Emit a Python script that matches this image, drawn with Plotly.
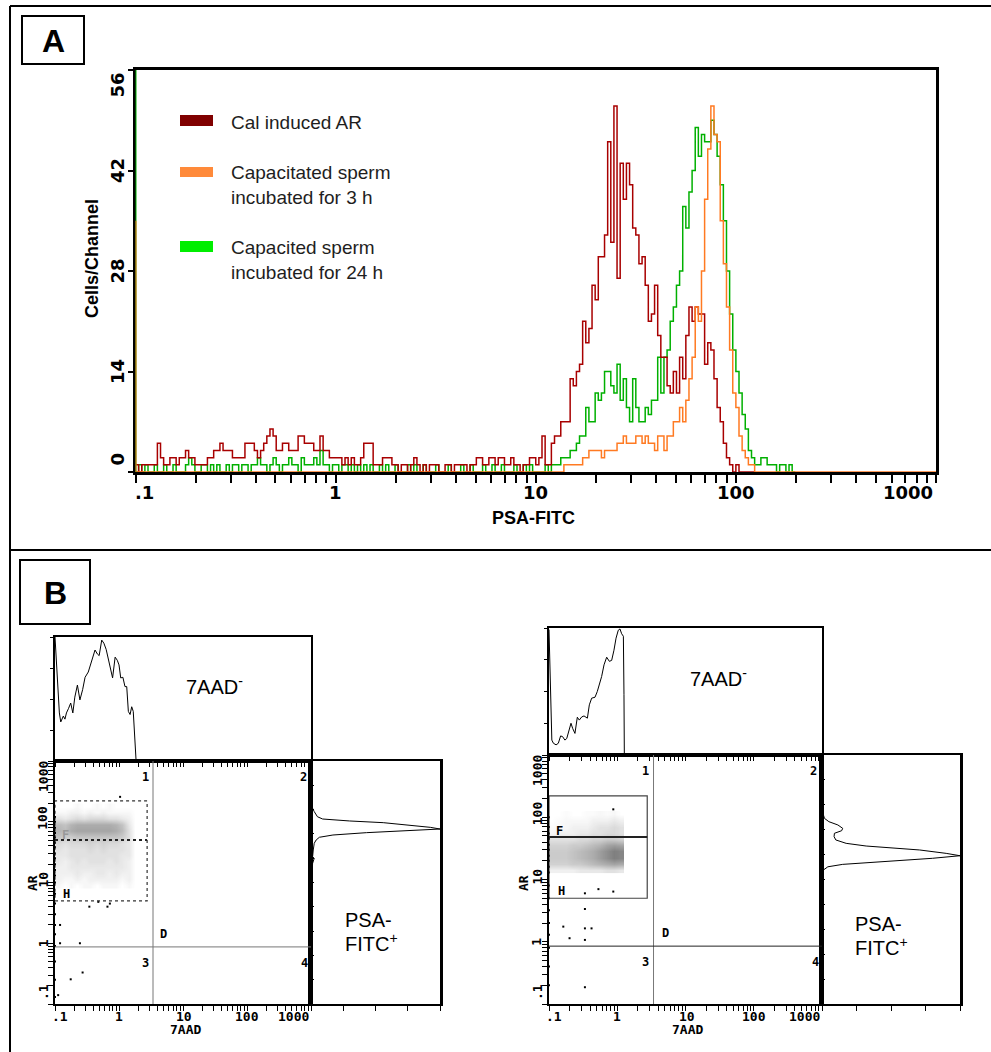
import numpy as np
import plotly.graph_objects as go

W, H = 991, 1052

# ---------------- Panel A: PSA-FITC histograms (256 log channels, 0.1 - 1000) ----------------
CH_PER_DECADE = 64

cal_induced_ar = [
    1, 0, 1, 1, 1, 1, 1, 4,  2, 1, 1, 2, 2, 1, 2, 2,  3, 2, 2, 1, 1, 1, 1, 2,  2, 3, 3, 4, 3, 3, 3, 2,
    2, 2, 2, 4, 4, 4, 3, 2,  3, 4, 5, 6, 5, 3, 3, 4,  4, 3, 3, 3, 5, 5, 4, 4,  4, 3, 3, 5, 3, 3, 2, 2,
    2, 2, 1, 2, 1, 2, 1, 1,  2, 4, 4, 4, 1, 1, 1, 2,  2, 2, 1, 1, 0, 1, 1, 0,  1, 2, 1, 0, 1, 0, 1, 1,
    1, 0, 0, 1, 1, 0, 1, 1,  1, 1, 0, 1, 1, 2, 2, 1,  1, 2, 2, 1, 2, 2, 1, 1,  2, 1, 1, 0, 1, 1, 2, 2,
    1, 2, 5, 1, 1, 4, 5, 5, 7, 7,
    7, 13, 12, 14, 15, 21, 18, 20, 26, 24,
    30, 30, 33, 46, 32, 51, 27, 43, 38, 43,
    40, 34, 33, 29, 30, 26, 21, 22, 26, 19,
    16, 16, 12, 11, 14, 11, 16, 13, 19, 23,
    21, 23, 22, 22, 15, 18, 17, 13, 9, 7,
    4, 2, 1, 0, 1, 0, 0, 0, 0, 0,
]

capacitated_24h = [
    0, 1, 0, 1, 0, 0, 1, 0,  0, 1, 0, 0, 1, 0, 0, 0,  1, 2, 1, 0, 0, 1, 1, 0,  1, 0, 1, 0, 0, 1, 0, 1,
    1, 0, 1, 1, 0, 1, 1, 2,  1, 1, 0, 1, 2, 1, 0, 1,  1, 2, 1, 1, 0, 2, 1, 1,  1, 2, 1, 3, 1, 1, 0, 1,
    1, 0, 1, 1, 0, 1, 0, 1,  0, 1, 0, 1, 0, 0, 1, 0,  1, 0, 0, 1, 0, 0, 0, 1,  0, 1, 0, 0, 1, 0, 0, 0,
    1, 0, 0, 0, 1, 0, 0, 0,  1, 0, 0, 1, 0, 0, 0, 1,  0, 0, 1, 0, 0, 1, 0, 0,  0, 1, 0, 0, 1, 0, 1, 0,
    0, 0, 0, 1, 0, 1, 1, 1, 2, 2,
    2, 3, 3, 4, 5, 5, 9, 7, 7, 11,
    10, 11, 14, 14, 12, 11, 15, 10, 13, 9,
    7, 13, 9, 7, 7, 9, 8, 10, 10, 16,
    11, 16, 17, 21, 23, 26, 28, 37, 34, 39,
    42, 48, 44, 47, 46, 46, 49, 47, 44, 40,
    35, 28, 22, 17, 14, 11, 8, 6, 3, 2,
    1, 1, 2, 2, 1, 1, 1, 0, 1, 1,
    0, 1, 0,
]

capacitated_3h = [0] * 136 + [
    0, 1, 1, 1, 1, 1, 1, 2, 2, 3,
    3, 3, 3, 2, 3, 3, 3, 3, 4, 4,
    5, 4, 4, 4, 5, 5, 4, 5, 4, 4,
    3, 5, 5, 3, 5, 5, 7, 7, 9, 7,
    10, 13, 16, 23, 21, 28, 38, 45, 51, 47,
    46, 35, 29, 23, 17, 11, 9, 5, 3, 2,
    1, 1,
] + [0] * 58

# events piled up in the lowest channel (off scale at 0.1)
capacitated_3h_offscale = 35
capacitated_24h_offscale = 60

a_xticks_decades = [".1", "1", "10", "100", "1000"]
a_yticks = [0, 14, 28, 42, 56]

legend_labels = ["Cal induced AR",
                 "Capacitated sperm<br>incubated for 3 h",
                 "Capacited sperm<br>incubated for 24 h"]

# ---------------- Panel B: 7AAD / AR dot plots ----------------
# 7AAD single-parameter histograms (above each dot plot)
aad_left_7aad = [0.100, 0.109, 0.117, 0.123, 0.135, 0.143, 0.151, 0.163, 0.176, 0.19,
                 0.204, 0.224, 0.245, 0.27, 0.295, 0.331, 0.372, 0.422, 0.46, 0.49,
                 0.537, 0.58, 0.63, 0.68, 0.75, 0.794, 0.87, 0.94, 1.0, 1.064,
                 1.15, 1.24, 1.32, 1.40, 1.49, 1.58, 1.67, 1.71, 1.78, 1.85]
aad_left_counts = [40, 28, 15.5, 12.6, 14.5, 13.5, 15.5, 17, 18.7, 15.5,
                   20.6, 24.5, 19.7, 23, 27, 28.7, 32, 35.8, 34.5, 34,
                   39, 38, 36, 33, 30, 26.8, 33.5, 32.5, 31, 26.8,
                   27, 24, 24, 16, 15, 17.5, 16, 11, 5, 0]

aad_right_7aad = [0.1, 0.106, 0.11, 0.116, 0.127, 0.137, 0.148, 0.158, 0.171, 0.182,
                  0.196, 0.21, 0.222, 0.24, 0.26, 0.278, 0.302, 0.326, 0.365, 0.39,
                  0.422, 0.472, 0.51, 0.546, 0.59, 0.64, 0.70, 0.766, 0.828, 0.895,
                  0.96, 1.035, 1.096, 1.16, 1.23, 1.255, 1.27]
aad_right_counts = [39.5, 21.6, 4.7, 3.7, 3.2, 3.7, 6.0, 5.8, 4.7, 5.2,
                    7.9, 10, 8.4, 6.8, 11.9, 11, 12, 12.3, 11.6, 15.8,
                    17.9, 18.2, 20, 22, 24.7, 28.4, 30.8, 29.5, 29.8, 33,
                    36.8, 39.3, 39.7, 38.2, 37.4, 19, 0]

# PSA-FITC (AR) histograms (right of each dot plot)
ar_left_ar = [177, 166, 147, 121, 111, 107, 103, 96.6, 88.3, 80.9, 75.9, 71.3,
              66.1, 60.5, 55.5, 50.1, 44.2, 34.3, 26.6, 25, 20.7, 14.2, 9.1]
ar_left_counts = [0, 0.5, 1, 2, 3.6, 6.8, 12, 22.4, 30.7, 37, 40, 27.6,
                  17.2, 6.8, 2.6, 1.6, 1, 0.7, 0.5, 1, 0.5, 0.3, 0]
ar_right_ar = [130.6, 118.3, 96.2, 84.9, 75.2, 66.4, 60.8, 55.2, 48.8, 43.2, 38.1, 34.5,
               32.4, 29.8, 26.3, 24.1, 21.9, 20.0, 18.6, 17.5, 16.0, 14.2, 12.6]
ar_right_counts = [0, 0.2, 0.7, 2, 4.6, 6, 5.7, 3.6, 3.5, 4, 7, 12.8,
                   20.6, 28.3, 36, 40, 32, 22.5, 12.8, 6, 1.7, 0.4, 0]

# dot-plot event density (relative), 0.1-decade bins
dens_left_7aad = [0.112, 0.141, 0.178, 0.224, 0.282, 0.355, 0.447, 0.562, 0.708, 0.891, 1.122, 1.413, 1.778]
dens_left_ar = [8.9, 11.2, 14.1, 17.8, 22.4, 28.2, 35.5, 44.7, 56.2, 70.8, 89.1, 112, 141, 178]
dens_left = [
    [0.05, 0, 0.05, 0, 0.05, 0.05, 0, 0.05, 0.05, 0.05, 0, 0.05, 0],
    [0.1, 0.05, 0.05, 0.1, 0.05, 0.1, 0.1, 0.1, 0.1, 0.1, 0.05, 0.1, 0],
    [0.1, 0.1, 0.1, 0.15, 0.1, 0.1, 0.15, 0.15, 0.1, 0.15, 0.1, 0.1, 0],
    [0.1, 0.1, 0.15, 0.15, 0.15, 0.15, 0.15, 0.15, 0.15, 0.15, 0.15, 0.1, 0],
    [0.15, 0.1, 0.15, 0.2, 0.15, 0.2, 0.2, 0.2, 0.15, 0.2, 0.15, 0.1, 0],
    [0.15, 0.15, 0.2, 0.2, 0.2, 0.2, 0.2, 0.2, 0.2, 0.2, 0.15, 0.15, 0],
    [0.2, 0.15, 0.2, 0.2, 0.2, 0.25, 0.2, 0.25, 0.2, 0.2, 0.2, 0.15, 0],
    [0.25, 0.2, 0.25, 0.25, 0.25, 0.3, 0.25, 0.3, 0.25, 0.25, 0.2, 0.15, 0],
    [0.4, 0.35, 0.35, 0.4, 0.4, 0.4, 0.4, 0.4, 0.4, 0.4, 0.35, 0.2, 0],
    [0.5, 0.45, 0.55, 0.6, 0.6, 0.6, 0.6, 0.6, 0.6, 0.55, 0.45, 0.2, 0],
    [0.45, 0.4, 0.5, 0.55, 0.55, 0.55, 0.55, 0.55, 0.55, 0.5, 0.4, 0.15, 0],
    [0.2, 0.15, 0.2, 0.25, 0.2, 0.25, 0.25, 0.25, 0.2, 0.2, 0.15, 0.1, 0],
    [0.05, 0.05, 0.1, 0.1, 0.05, 0.1, 0.05, 0.1, 0.05, 0.05, 0.05, 0.05, 0],
    [0, 0, 0, 0.05, 0, 0, 0.05, 0, 0.05, 0, 0, 0, 0],
]
dens_right_7aad = [0.112, 0.141, 0.178, 0.224, 0.282, 0.355, 0.447, 0.562, 0.708, 0.891, 1.122]
dens_right_ar = [14.1, 17.8, 22.4, 28.2, 35.5, 44.7, 56.2, 70.8, 89.1, 112]
dens_right = [
    [0.1, 0.1, 0.1, 0.1, 0.15, 0.15, 0.15, 0.15, 0.2, 0.2, 0.15],
    [0.3, 0.3, 0.3, 0.35, 0.35, 0.4, 0.45, 0.5, 0.55, 0.6, 0.55],
    [0.35, 0.35, 0.35, 0.4, 0.45, 0.5, 0.55, 0.65, 0.75, 0.85, 0.8],
    [0.35, 0.35, 0.35, 0.4, 0.45, 0.5, 0.55, 0.65, 0.75, 0.85, 0.8],
    [0.3, 0.3, 0.3, 0.35, 0.35, 0.4, 0.45, 0.5, 0.6, 0.65, 0.6],
    [0.2, 0.2, 0.2, 0.2, 0.25, 0.25, 0.3, 0.3, 0.35, 0.35, 0.3],
    [0.05, 0.1, 0.1, 0.1, 0.15, 0.15, 0.2, 0.2, 0.25, 0.25, 0.2],
    [0.03, 0.05, 0.05, 0.1, 0.1, 0.1, 0.15, 0.2, 0.2, 0.25, 0.2],
    [0, 0.03, 0.05, 0.05, 0.05, 0.05, 0.1, 0.1, 0.1, 0.15, 0.1],
    [0, 0, 0.03, 0, 0, 0.03, 0.03, 0.05, 0.03, 0.05, 0],
]

# isolated events outside the dense cloud
dots_left_7aad = [0.344, 0.475, 0.66, 0.72, 0.12, 0.245, 0.12, 0.27, 0.176, 0.112, 1.04,
                  0.1, 0.1, 0.1, 0.1, 0.1, 0.1, 0.1, 0.1, 0.1, 0.1, 0.1, 0.1, 0.1, 0.1, 0.1, 0.1,
                  0.1, 0.1, 0.1, 0.1, 0.1, 0.1]
dots_left_ar = [4.0, 4.8, 4.0, 4.5, 2.0, 1.0, 1.0, 0.33, 0.255, 0.14, 257,
                120, 80, 55, 38, 25, 16, 10, 6.5, 4.5, 3.0, 2.0, 1.4, 0.9, 0.5, 0.25, 0.13,
                100, 65, 45, 30, 20, 13]
dots_right_7aad = [0.336, 0.336, 0.42, 0.162, 0.2, 0.336, 0.336, 0.336, 0.53, 0.875, 0.875,
                   0.1, 0.1, 0.1, 0.1, 0.1, 0.1, 0.1, 0.1, 0.1, 0.1, 0.1, 0.1, 0.1, 0.1,
                   0.1, 0.1, 0.1, 0.1]
dots_right_ar = [3.36, 1.64, 1.64, 1.75, 1.14, 1.07, 0.186, 6.0, 7.0, 6.4, 134,
                 100, 70, 45, 30, 20, 13, 8, 5, 3.2, 2.0, 1.3, 0.8, 0.4, 0.2,
                 55, 36, 24, 16]

# gates and quadrant markers (7AAD, AR units)
gate_7aad = (0.1, 2.75)
gate_ar = (5.0, 220.0)
gate_split_left, gate_split_right = 50.0, 48.0
quad_7aad = 3.4
quad_ar_left, quad_ar_right = 0.87, 0.85
b_decade_labels = [".1", "1", "10", "100", "1000"]

# ---------------- colours / fonts ----------------
RED, ORANGE, GREEN = "#a80000", "#ff7a22", "#00b000"
RED_KEY, ORANGE_KEY, GREEN_KEY = "#800000", "#ff8a3a", "#00ee00"
MONO = "DejaVu Sans Mono"
TICKS_A = "DejaVu Sans"
SANS = "Liberation Sans, Arial"


def pxx(x):
    return x / W


def pxy(y):
    return 1 - y / H


fig = go.Figure()

# ---- Panel A traces ----
def step_trace(counts, color, name):
    n = len(counts)
    edges = 10.0 ** (-1 + np.arange(n + 1) / CH_PER_DECADE)
    return go.Scatter(x=edges, y=list(counts) + [counts[-1]], mode="lines",
                      line=dict(color=color, width=1.5, shape="hv"),
                      name=name, showlegend=False, xaxis="x", yaxis="y",
                      hoverinfo="skip")


fig.add_trace(step_trace(capacitated_24h, GREEN, "24 h"))
fig.add_trace(step_trace(cal_induced_ar, RED, "Cal"))
fig.add_trace(step_trace(capacitated_3h, ORANGE, "3 h"))
fig.add_trace(go.Scatter(x=[0.1, 0.1], y=[0, capacitated_24h_offscale], mode="lines",
                         line=dict(color=GREEN, width=2), xaxis="x", yaxis="y",
                         showlegend=False, hoverinfo="skip"))
fig.add_trace(go.Scatter(x=[0.1, 0.1], y=[0, capacitated_3h_offscale], mode="lines",
                         line=dict(color=ORANGE, width=2), xaxis="x", yaxis="y",
                         showlegend=False, hoverinfo="skip"))

# ---- Panel B traces ----
dens_scale = [[0, "rgba(40,40,40,0)"], [1, "rgba(40,40,40,0.7)"]]


def add_block(ix, aad_x, aad_c, ar_y, ar_c, dx, dy, dz, dots_x, dots_y):
    xa, ya = f"x{ix}", f"y{ix}"
    xs, ys = f"x{ix + 1}", f"y{ix + 1}"
    xr, yr = f"x{ix + 2}", f"y{ix + 2}"
    fig.add_trace(go.Scatter(x=np.log10(aad_x), y=aad_c, mode="lines",
                             line=dict(color="black", width=1), xaxis=xa, yaxis=ya,
                             showlegend=False, hoverinfo="skip"))
    fig.add_trace(go.Heatmap(x=np.log10(dx), y=np.log10(dy), z=dz, zmin=0, zmax=1,
                             colorscale=dens_scale, showscale=False, zsmooth="best",
                             xaxis=xs, yaxis=ys, hoverinfo="skip"))
    fig.add_trace(go.Scatter(x=np.log10(dots_x), y=np.log10(dots_y), mode="markers",
                             marker=dict(color="black", size=2, symbol="square"),
                             xaxis=xs, yaxis=ys, showlegend=False, hoverinfo="skip"))
    fig.add_trace(go.Scatter(x=ar_c, y=np.log10(ar_y), mode="lines",
                             line=dict(color="black", width=1), xaxis=xr, yaxis=yr,
                             showlegend=False, hoverinfo="skip"))


add_block(2, aad_left_7aad, aad_left_counts, ar_left_ar, ar_left_counts,
          dens_left_7aad, dens_left_ar, dens_left, dots_left_7aad, dots_left_ar)
add_block(5, aad_right_7aad, aad_right_counts, ar_right_ar, ar_right_counts,
          dens_right_7aad, dens_right_ar, dens_right, dots_right_7aad, dots_right_ar)

# ---- Axes ----
a_tickvals = []
for d in range(-1, 4):
    a_tickvals.append(10.0 ** d)
    if d < 3:
        a_tickvals += [k * 10.0 ** d for k in range(2, 10)]

b_tickvals = []
for d in range(-1, 4):
    b_tickvals.append(float(d))
    if d < 3:
        b_tickvals += [d + np.log10(k) for k in range(2, 10)]

layout = dict(
    width=W, height=H, margin=dict(l=0, r=0, t=0, b=0),
    paper_bgcolor="white", plot_bgcolor="white", showlegend=False,
)

layout["xaxis"] = dict(
    type="log", range=[-1, 3], domain=[pxx(135.5), pxx(936)], anchor="y",
    showline=True, linewidth=3, linecolor="black", mirror=True,
    ticks="outside", ticklen=8, tickwidth=2, tickcolor="black",
    tickvals=a_tickvals, showticklabels=False,
    showgrid=False, zeroline=False, layer="below traces",
)
layout["yaxis"] = dict(
    range=[0, 56], domain=[pxy(472), pxy(70)], anchor="x",
    showline=True, linewidth=3, linecolor="black", mirror=True,
    ticks="outside", ticklen=5, tickwidth=2, tickcolor="black",
    tickvals=a_yticks, showticklabels=False,
    showgrid=False, zeroline=False, layer="below traces",
)


def set_block(ix, x0, x1, x2, ytop, ymid, ybot):
    common = dict(showline=True, linecolor="black", mirror=True, showgrid=False,
                  zeroline=False, tickcolor="black", showticklabels=False)
    # 7AAD histogram
    layout[f"xaxis{ix}"] = dict(common, range=[-1, 3], domain=[pxx(x0), pxx(x1)],
                                anchor=f"y{ix}", linewidth=2, ticks="outside", ticklen=4,
                                tickwidth=1, tickvals=b_tickvals)
    layout[f"yaxis{ix}"] = dict(common, range=[0, 40], domain=[pxy(ymid), pxy(ytop)],
                                anchor=f"x{ix}", linewidth=2, ticks="outside", ticklen=3,
                                tickwidth=1, tickvals=[10, 20, 30, 40])
    # dot plot
    layout[f"xaxis{ix + 1}"] = dict(common, range=[-1, 3], domain=[pxx(x0), pxx(x1)],
                                    anchor=f"y{ix + 1}", linewidth=2, ticks="outside",
                                    ticklen=5, tickwidth=1, tickvals=b_tickvals)
    layout[f"yaxis{ix + 1}"] = dict(common, range=[-1, 3], domain=[pxy(ybot), pxy(ymid)],
                                    anchor=f"x{ix + 1}", linewidth=2, ticks="outside",
                                    ticklen=5, tickwidth=1, tickvals=b_tickvals)
    # AR histogram
    layout[f"xaxis{ix + 2}"] = dict(common, range=[0, 40], domain=[pxx(x1), pxx(x2)],
                                    anchor=f"y{ix + 2}", linewidth=2, ticks="outside",
                                    ticklen=5, tickwidth=1, tickvals=[10, 20, 30, 40])
    layout[f"yaxis{ix + 2}"] = dict(common, range=[-1, 3], domain=[pxy(ybot), pxy(ymid)],
                                    anchor=f"x{ix + 2}", linewidth=3, ticks="inside",
                                    ticklen=3, tickwidth=1,
                                    tickvals=[-0.6 + 0.4 * k for k in range(9)])


set_block(2, 55, 311, 440, 637, 761, 1004)
set_block(5, 549, 822, 960, 628, 755, 1004)

# ---- Shapes ----
shapes = []
line_k = dict(color="black", width=2)
shapes += [
    dict(type="line", xref="paper", yref="paper", x0=pxx(10), x1=pxx(991), y0=pxy(6), y1=pxy(6), line=line_k),
    dict(type="line", xref="paper", yref="paper", x0=pxx(10), x1=pxx(10), y0=pxy(6), y1=pxy(1052), line=line_k),
    dict(type="line", xref="paper", yref="paper", x0=pxx(10), x1=pxx(991), y0=pxy(550), y1=pxy(550), line=line_k),
    dict(type="rect", xref="paper", yref="paper", x0=pxx(22), x1=pxx(84), y0=pxy(64), y1=pxy(16), line=line_k),
    dict(type="rect", xref="paper", yref="paper", x0=pxx(20), x1=pxx(90), y0=pxy(624), y1=pxy(560), line=line_k),
]
for (y0, y1), col in zip([(115, 126), (167, 177), (241, 252)], [RED_KEY, ORANGE_KEY, GREEN_KEY]):
    shapes.append(dict(type="rect", xref="paper", yref="paper", x0=pxx(180), x1=pxx(213),
                       y0=pxy(y1), y1=pxy(y0), fillcolor=col, line=dict(width=0)))

for ix, split, q_ar, dash, gcol in [(3, gate_split_left, quad_ar_left, "dot", "#333"),
                                    (6, gate_split_right, quad_ar_right, "solid", "#444")]:
    xr, yr = f"x{ix}", f"y{ix}"
    gx0, gx1 = np.log10(gate_7aad[0]), np.log10(gate_7aad[1])
    gy0, gy1 = np.log10(gate_ar[0]), np.log10(gate_ar[1])
    gs = np.log10(split)
    shapes += [
        dict(type="rect", xref=xr, yref=yr, x0=gx0, x1=gx1, y0=gy0, y1=gy1,
             line=dict(color=gcol, width=1.2, dash=dash)),
        dict(type="line", xref=xr, yref=yr, x0=gx0, x1=gx1, y0=gs, y1=gs,
             line=dict(color="#222", width=2, dash=dash)),
        dict(type="line", xref=xr, yref=yr, x0=np.log10(quad_7aad), x1=np.log10(quad_7aad),
             y0=-1, y1=3, line=dict(color="#777", width=1)),
        dict(type="line", xref=xr, yref=yr, x0=-1, x1=3, y0=np.log10(q_ar), y1=np.log10(q_ar),
             line=dict(color="#777" if ix == 3 else "#222", width=1)),
    ]
layout["shapes"] = shapes

# ---- Annotations ----
ann = []


def txt(text, x, y, size, family=SANS, bold=False, angle=0, xanchor="center",
        color="black", xref="paper", yref="paper", xshift=0, yshift=0, align="center"):
    ann.append(dict(text=text, x=x, y=y, xref=xref, yref=yref, showarrow=False,
                    xanchor=xanchor, yanchor="middle", textangle=angle, align=align,
                    xshift=xshift, yshift=yshift,
                    font=dict(family=family, size=size, color=color,
                              weight="bold" if bold else "normal")))


txt("A", pxx(53), pxy(41), 32, bold=True)
txt("B", pxx(55), pxy(593), 32, bold=True)
txt("Cells/Channel", pxx(92), pxy(259), 18, bold=True, angle=-90)
txt("PSA-FITC", pxx(533), pxy(518), 18, bold=True)

# Panel A tick labels (end labels kept inside the frame, as on the cytometer print-out)
for i, lab in enumerate(a_xticks_decades):
    xa, xs = "center", 0
    if i == 0:
        xa, xs = "left", -3
    elif i == len(a_xticks_decades) - 1:
        xa, xs = "right", -1
    txt(lab, i / 4, 0, 18, family=TICKS_A, bold=True, xanchor=xa,
        xref="x domain", yref="y domain", xshift=xs, yshift=-20)
for v in a_yticks:
    ys = -15 if v == a_yticks[-1] else (13 if v == 0 else 0)
    txt(str(v), 0, v, 18, family=TICKS_A, bold=True, angle=-90,
        xref="x domain", yref="y", xshift=-18, yshift=ys)

key_y = [122, 185, 260]
for lab, yy in zip(legend_labels, key_y):
    txt(lab, pxx(229), pxy(yy), 19, xanchor="left", color="#1e1e1e", align="left")

for x_title, y_title, x7, y7, xp, yp in [(185, 32, 214, 685, 343, 920),
                                         (687, 523, 718, 677, 853, 924)]:
    txt("7AAD", pxx(x_title), pxy(1029), 13, family=MONO, bold=True)
    txt("AR", pxx(y_title), pxy(883), 13, family=MONO, bold=True, angle=-90)
    txt("7AAD<sup>-</sup>", pxx(x7), pxy(y7), 20)
    txt("PSA-", pxx(xp), pxy(yp), 20, xanchor="left")
    txt("FITC<sup>+</sup>", pxx(xp), pxy(yp + 22), 20, xanchor="left")

b_xshift = [5, 0, 1, 0, -18]
b_yshift = [12, 0, 3, 4, -16]
for ix in (3, 6):
    dom = dict(xref=f"x{ix} domain", yref=f"y{ix} domain")
    for d, lab, xs, ys in zip(range(-1, 4), b_decade_labels, b_xshift, b_yshift):
        txt(lab, d, 0, 13, family=MONO, bold=True, xref=f"x{ix}", yref=f"y{ix} domain",
            xshift=xs, yshift=-12)
        txt(lab, 0, d, 13, family=MONO, bold=True, angle=-90, xref=f"x{ix} domain",
            yref=f"y{ix}", xshift=-12, yshift=ys)
    for lab, xd, yd in [("1", 0.355, 0.935), ("2", 0.97, 0.935), ("3", 0.355, 0.17),
                        ("4", 0.975, 0.17), ("D", 0.425, 0.287)]:
        txt(lab, xd, yd, 12, family=MONO, bold=True, **dom)
    txt("F", -0.84, 1.78, 12, family=MONO, bold=True,
        color="#999" if ix == 3 else "black", xref=f"x{ix}", yref=f"y{ix}")
    txt("H", -0.82, 0.81, 12, family=MONO, bold=True, xref=f"x{ix}", yref=f"y{ix}")

layout["annotations"] = ann
fig.update_layout(**layout)
fig.write_html(
    "out.html",
    config={"displayModeBar": False},
    post_script="document.documentElement.style.overflow='hidden';"
                "document.body.style.margin='0';document.body.style.overflow='hidden';",
)
